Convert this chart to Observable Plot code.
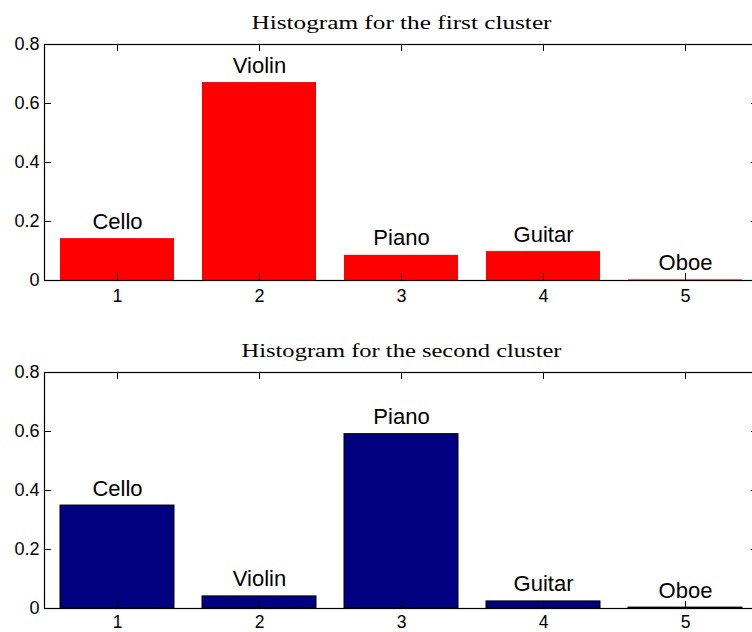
<!DOCTYPE html>
<html>
<head>
<meta charset="utf-8">
<script src="https://cdn.jsdelivr.net/npm/d3@7"></script>
<script src="https://cdn.jsdelivr.net/npm/@observablehq/plot@0.6"></script>
<style>
  html, body { margin: 0; padding: 0; overflow: hidden; background: #fff; }
  #fig { width: 800px; }
  #fig svg { display: block; }
</style>
</head>
<body>
<div id="fig"></div>
<script>
// Bin index and the instrument each bin stands for
const bins = [1, 2, 3, 4, 5];
const instruments = ["Cello", "Violin", "Piano", "Guitar", "Oboe"];

// Relative frequency of each instrument per cluster
const firstCluster = [0.142, 0.671, 0.085, 0.098, 0.002];
const secondCluster = [0.349, 0.041, 0.591, 0.024, 0.003];

// Axis ticks
const yTicks = [0, 0.2, 0.4, 0.6, 0.8];
const titles = ["Histogram for the first cluster", "Histogram for the second cluster"];

const W = 800, ML = 44, MR = 42;
const innerW = W - ML - MR;
const TICK = 7;

function panel(values, title, fill, stroke, height, marginTop, marginBottom, xPad, xFont, titleWidth) {
  const rows = bins.map((b, i) => ({bin: b, value: values[i], name: instruments[i]}));
  const innerH = height - marginTop - marginBottom;
  const svg = Plot.plot({
    width: W,
    height,
    marginLeft: ML,
    marginRight: MR,
    marginTop,
    marginBottom,
    style: {fontFamily: "'Liberation Sans', Arial, Helvetica, sans-serif", fontSize: "18px", color: "#000", background: "#fff"},
    x: {type: "band", domain: bins, paddingInner: 0.2, paddingOuter: 0.1, label: null},
    y: {domain: [0, 0.8], label: null},
    marks: [
      Plot.barY(rows, {x: "bin", y: "value", fill, stroke, strokeWidth: stroke === "none" ? 0 : 1}),
      Plot.frame({stroke: "#000", strokeWidth: 1.2}),
      // inward ticks on all four sides of the box
      Plot.tickX(bins, {x: d => d, insetTop: innerH - TICK, stroke: "#000"}),
      Plot.tickX(bins, {x: d => d, insetBottom: innerH - TICK, stroke: "#000"}),
      Plot.tickY(yTicks, {y: d => d, insetRight: innerW - TICK, stroke: "#000"}),
      Plot.tickY(yTicks, {y: d => d, insetLeft: innerW - TICK, stroke: "#000"}),
      Plot.axisX({tickSize: 0, tickPadding: xPad, fontSize: xFont}),
      Plot.axisY({ticks: yTicks, tickSize: 0, tickPadding: 5, tickFormat: d => String(d), fontSize: 18}),
      Plot.text(rows, {x: "bin", y: "value", text: "name", lineAnchor: "bottom", dy: -10, fontSize: 22, fill: "#000"}),
      Plot.text([title], {frameAnchor: "top", lineAnchor: "bottom", dy: -16, fontSize: 19.5,
        fontFamily: "'Liberation Serif', 'Times New Roman', serif", fill: "#000"})
    ]
  });
  // widen the serif title so its glyphs take the broader book-face proportions
  d3.select(svg).selectAll("text")
    .filter(function () { return this.textContent === title; })
    .attr("textLength", titleWidth)
    .attr("lengthAdjust", "spacingAndGlyphs");
  return svg;
}

const fig = document.getElementById("fig");
fig.append(panel(firstCluster, titles[0], "#ff0000", "none", 316, 44, 36, 9, 18, 300));
fig.append(panel(secondCluster, titles[1], "#000080", "#000", 316, 56, 24, 7, 17.5, 320));
</script>
</body>
</html>
